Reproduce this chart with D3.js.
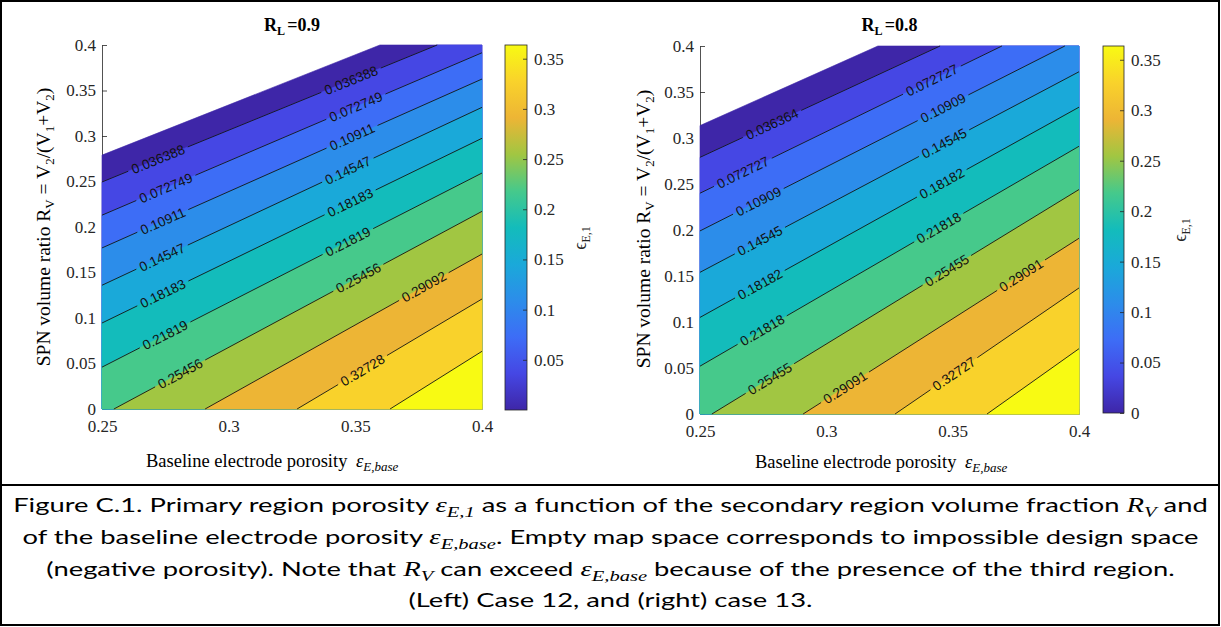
<!DOCTYPE html>
<html>
<head>
<meta charset="utf-8">
<script src="https://cdn.jsdelivr.net/npm/d3@7"></script>
<style>
  html, body { margin: 0; padding: 0; background: #ffffff; }
  svg { display: block; }
</style>
</head>
<body>
<svg id="fig" width="1221" height="627"></svg>
<script>
// Primary region porosity eps_E,1 over baseline porosity (x) and SPN volume ratio R_V (y)

const xTicks = [0.25, 0.3, 0.35, 0.4];
const yTicks = [0, 0.05, 0.1, 0.15, 0.2, 0.25, 0.3, 0.35, 0.4];

// Case 12, R_L = 0.9 : contour levels, each level's line from its lower/left end to its upper/right end
const levels12 = [0.000027, 0.036388, 0.072749, 0.10911, 0.14547, 0.18183, 0.21819, 0.25456, 0.29092, 0.32728, 0.36364];
const lineStart12 = [[0.25, 0.279], [0.25, 0.2495], [0.25, 0.213], [0.25, 0.177], [0.25, 0.136], [0.25, 0.0945], [0.25, 0.046], [0.2547, 0], [0.2907, 0], [0.327, 0], [0.3637, 0]];
const lineEnd12 = [[0.3597, 0.4], [0.3823, 0.4], [0.4, 0.3915], [0.4, 0.3626], [0.4, 0.3315], [0.4, 0.2975], [0.4, 0.2593], [0.4, 0.2172], [0.4, 0.1703], [0.4, 0.1209], [0.4, 0.0634]];
// inline labels: [level index, fraction along the line]
const labels12 = [[1, 0.167], [1, 0.743], [2, 0.168], [2, 0.668], [3, 0.16], [3, 0.658], [4, 0.158], [4, 0.647],
                  [5, 0.16], [5, 0.653], [6, 0.166], [6, 0.647], [7, 0.18], [7, 0.664], [8, 0.79], [9, 0.354]];
const cbTicks12 = [0.05, 0.1, 0.15, 0.2, 0.25, 0.3, 0.35];

// Case 13, R_L = 0.8
const levels13 = [0, 0.036364, 0.072727, 0.10909, 0.14545, 0.18182, 0.21818, 0.25455, 0.29091, 0.32727, 0.36364];
const lineStart13 = [[0.25, 0.3135], [0.25, 0.279], [0.25, 0.240], [0.25, 0.199], [0.25, 0.154], [0.25, 0.105], [0.25, 0.052], [0.2547, 0], [0.2908, 0], [0.3272, 0], [0.3636, 0]];
const lineEnd13 = [[0.3204, 0.4], [0.345, 0.4], [0.3695, 0.4], [0.3944, 0.4], [0.4, 0.372], [0.4, 0.3335], [0.4, 0.291], [0.4, 0.244], [0.4, 0.191], [0.4, 0.137], [0.4, 0.071]];
const labels13 = [[1, 0.30], [2, 0.142], [2, 0.768], [3, 0.16], [3, 0.666], [4, 0.158], [4, 0.644],
                  [5, 0.158], [5, 0.638], [6, 0.164], [6, 0.63], [7, 0.158], [7, 0.64], [8, 0.152], [8, 0.79], [9, 0.32]];
const cbTicks13 = [0, 0.05, 0.1, 0.15, 0.2, 0.25, 0.3, 0.35];

// colour map (parula), sampled at tenths of the colour range
const parula = ['#3e26a8', '#4547e4', '#3d6df6', '#2c8dea', '#1aa9d9', '#13bcbb',
                '#46c98b', '#a1c642', '#edb535', '#f9d22b', '#f8fa13'];

const serif = '"Liberation Serif", "Times New Roman", Times, serif';
const sans = '"Liberation Sans", Arial, Helvetica, sans-serif';
const ink = '#262626';

const svg = d3.select('#fig');

// keep the part of a polygon lying on the same side of line a-b as point ref
function clipHalfPlane(poly, a, b, ref) {
  const side = p => (b[0] - a[0]) * (p[1] - a[1]) - (b[1] - a[1]) * (p[0] - a[0]);
  const s = Math.sign(side(ref));
  const out = [];
  for (let i = 0; i < poly.length; i++) {
    const p = poly[i], q = poly[(i + 1) % poly.length];
    const sp = side(p) * s, sq = side(q) * s;
    if (sp >= 0) out.push(p);
    if ((sp >= 0) !== (sq >= 0)) {
      const t = sp / (sp - sq);
      out.push([p[0] + t * (q[0] - p[0]), p[1] + t * (q[1] - p[1])]);
    }
  }
  return out;
}

// text with TeX-like subscripts: parts = [[text, isSub], ...]
function richText(sel, parts, subSize, subShift) {
  let shifted = false;
  parts.forEach(([txt, sub]) => {
    const ts = sel.append('tspan').text(txt);
    if (sub && !shifted) { ts.attr('dy', subShift).attr('font-size', subSize); shifted = true; }
    else if (sub) { ts.attr('font-size', subSize); }
    else if (!sub && shifted) { ts.attr('dy', -subShift); shifted = false; }
  });
  return sel;
}

function drawPanel(p) {
  const x = d3.scaleLinear().domain([0.25, 0.4]).range([p.x0, p.x1]);
  const y = d3.scaleLinear().domain([0, 0.4]).range([p.y0, p.y1]);
  const g = svg.append('g');

  // axes go underneath the filled contours
  const yAxis = d3.axisLeft(y).tickValues(yTicks).tickSizeInner(-5).tickSizeOuter(0)
    .tickPadding(6).tickFormat(d => String(d));
  const xAxis = d3.axisBottom(x).tickValues(xTicks).tickSizeInner(-5).tickSizeOuter(0)
    .tickPadding(11).tickFormat(d => String(d));
  const ya = g.append('g').attr('transform', `translate(${p.x0},0)`).call(yAxis);
  const xa = g.append('g').attr('transform', `translate(0,${p.y0})`).call(xAxis);
  [ya, xa].forEach(a => {
    a.attr('font-family', serif).attr('font-size', 17);
    a.selectAll('path, line').attr('stroke', ink).attr('stroke-width', 0.8);
    a.selectAll('text').attr('fill', ink);
  });

  // filled bands: everything on the high side of each level, painted low to high
  const rect = [[0.25, 0], [0.4, 0], [0.4, 0.4], [0.25, 0.4]];
  const toPx = pts => pts.map(q => [x(q[0]), y(q[1])]);
  const lineGen = d3.line();
  p.levels.forEach((lv, k) => {
    const poly = clipHalfPlane(rect, p.start[k], p.end[k], [0.4, 0]);
    if (poly.length < 3) return;
    g.append('path').attr('d', lineGen(toPx(poly)) + 'Z')
      .attr('fill', parula[k]).attr('stroke', parula[k]).attr('stroke-width', 0.6);
  });

  // contour lines with inline labels
  const labG = g.append('g');
  p.levels.forEach((lv, k) => {
    if (k === 0) return;
    const a = [x(p.start[k][0]), y(p.start[k][1])];
    const b = [x(p.end[k][0]), y(p.end[k][1])];
    const len = Math.hypot(b[0] - a[0], b[1] - a[1]);
    const ang = Math.atan2(b[1] - a[1], b[0] - a[0]) * 180 / Math.PI;
    const gaps = [];
    p.labels.filter(l => l[0] === k).forEach(([, t]) => {
      const cx = a[0] + t * (b[0] - a[0]), cy = a[1] + t * (b[1] - a[1]);
      const txt = labG.append('text')
        .attr('transform', `translate(${cx},${cy}) rotate(${ang})`)
        .attr('text-anchor', 'middle').attr('dy', '0.36em')
        .attr('font-family', sans).attr('font-size', 13.5).attr('fill', '#111')
        .text(String(lv));
      const w = txt.node().getComputedTextLength();
      const h = (w / 2 + 4) / len;
      gaps.push([t - h, t + h]);
    });
    gaps.sort((u, v) => u[0] - v[0]);
    let t0 = 0;
    const segs = [];
    gaps.forEach(([s, e]) => { if (s > t0) segs.push([t0, s]); t0 = Math.max(t0, e); });
    if (t0 < 1) segs.push([t0, 1]);
    segs.forEach(([s, e]) => {
      g.insert('line', () => labG.node())
        .attr('x1', a[0] + s * (b[0] - a[0])).attr('y1', a[1] + s * (b[1] - a[1]))
        .attr('x2', a[0] + e * (b[0] - a[0])).attr('y2', a[1] + e * (b[1] - a[1]))
        .attr('stroke', '#141414').attr('stroke-width', 0.9);
    });
  });

  // title
  const title = g.append('text').attr('x', (p.x0 + p.x1) / 2).attr('y', 31)
    .attr('text-anchor', 'middle').attr('font-family', serif).attr('font-weight', 'bold')
    .attr('font-size', 18).attr('fill', '#000');
  richText(title, [['R', false], ['L ', true], ['=' + p.rl, false]], 12, 4);

  // axis labels
  const xl = g.append('text').attr('x', p.xlabX).attr('y', p.xlabY)
    .attr('font-family', serif).attr('font-size', 18.5).attr('fill', '#000');
  xl.append('tspan').text('Baseline electrode porosity ');
  xl.append('tspan').attr('dx', 4).attr('font-style', 'italic').text('ε');
  xl.append('tspan').attr('dy', 4).attr('font-size', 13).attr('font-style', 'italic').text('E,base');

  const yl = g.append('text').attr('transform', `translate(${p.ylabX},${p.ylabY}) rotate(-90)`)
    .attr('text-anchor', 'middle').attr('font-family', serif).attr('font-size', 19.5).attr('fill', '#000');
  richText(yl, [['SPN volume ratio R', false], ['V', true], [' = V', false], ['2', true], ['/(V', false],
                ['1', true], ['+V', false], ['2', true], [')', false]], 13, 4);

  // colour bar
  const cb = d3.scaleLinear().domain([0, 0.36364]).range([p.cbY0, p.cbY1]);
  const gid = 'grad' + p.id;
  const grad = svg.append('defs').append('linearGradient').attr('id', gid)
    .attr('x1', 0).attr('y1', 1).attr('x2', 0).attr('y2', 0);
  parula.forEach((c, i) => grad.append('stop').attr('offset', i / (parula.length - 1)).attr('stop-color', c));
  g.append('rect').attr('x', p.cbX).attr('y', cb(0.36364)).attr('width', p.cbW)
    .attr('height', cb(0) - cb(0.36364)).attr('fill', `url(#${gid})`)
    .attr('stroke', ink).attr('stroke-width', 0.8);
  const cbAxis = d3.axisRight(cb).tickValues(p.cbTicks).tickSizeInner(-4).tickSizeOuter(0)
    .tickPadding(7).tickFormat(d => String(d));
  const ca = g.append('g').attr('transform', `translate(${p.cbX + p.cbW},0)`).call(cbAxis);
  ca.attr('font-family', serif).attr('font-size', 17);
  ca.select('.domain').remove();
  ca.selectAll('line').attr('stroke', ink).attr('stroke-width', 0.8);
  ca.selectAll('text').attr('fill', ink);

  const cl = g.append('text').attr('transform', `translate(${p.cbLabX},${p.cbLabY}) rotate(-90)`)
    .attr('text-anchor', 'middle').attr('font-family', '"Liberation Serif", "DejaVu Serif", serif')
    .attr('font-size', 18).attr('fill', ink);
  richText(cl, [['ϵ', false], ['E,1', true]], 12, 4);
}

drawPanel({ id: 12, rl: '0.9', x0: 102, x1: 482, y0: 409, y1: 45,
  levels: levels12, start: lineStart12, end: lineEnd12, labels: labels12, cbTicks: cbTicks12,
  cbX: 505, cbW: 22, cbY0: 410, cbY1: 45, cbLabX: 586, cbLabY: 238,
  xlabX: 146, xlabY: 467, ylabX: 50, ylabY: 227 });

drawPanel({ id: 13, rl: '0.8', x0: 700, x1: 1079, y0: 414, y1: 46,
  levels: levels13, start: lineStart13, end: lineEnd13, labels: labels13, cbTicks: cbTicks13,
  cbX: 1103, cbW: 21, cbY0: 413, cbY1: 46, cbLabX: 1186, cbLabY: 230,
  xlabX: 755, xlabY: 468, ylabX: 650, ylabY: 229 });

// caption box
svg.append('rect').attr('x', 1).attr('y', 1).attr('width', 1218).attr('height', 624)
  .attr('fill', 'none').attr('stroke', '#000').attr('stroke-width', 2);
svg.append('line').attr('x1', 1).attr('x2', 1220).attr('y1', 485).attr('y2', 485)
  .attr('stroke', '#000').attr('stroke-width', 2);

const capFont = 'Lato, "Open Sans", "Liberation Sans", sans-serif';
const mathFont = '"Liberation Serif", "DejaVu Serif", serif';
const captionLines = [
  { y: 512, parts: [['Figure C.1. Primary region porosity '], ['ε', 'm'], ['E,1', 'ms'],
      [' as a function of the secondary region volume fraction '], ['R', 'm'], ['V', 'ms'], [' and']] },
  { y: 544, parts: [['of the baseline electrode porosity '], ['ε', 'm'], ['E,base', 'ms'],
      ['. Empty map space corresponds to impossible design space']] },
  { y: 576, parts: [['(negative porosity). Note that '], ['R', 'm'], ['V', 'ms'], [' can exceed '],
      ['ε', 'm'], ['E,base', 'ms'], [' because of the presence of the third region.']] },
  { y: 607, parts: [['(Left) Case 12, and (right) case 13.']] }
];
const capCx = 610.5;
const capNodes = captionLines.map(line => {
  const t = svg.append('text').attr('x', capCx).attr('y', line.y).attr('text-anchor', 'middle')
    .attr('font-family', capFont).attr('font-size', 20).attr('fill', '#000');
  let sub = false;
  line.parts.forEach(([txt, kind]) => {
    const ts = t.append('tspan').text(txt);
    if (kind === 'm' || kind === 'ms') ts.attr('font-family', mathFont).attr('font-style', 'italic').attr('font-size', 21);
    if (kind === 'ms') { ts.attr('font-size', 15); if (!sub) { ts.attr('dy', 5); sub = true; } }
    else if (sub) { ts.attr('dy', -5); sub = false; }
  });
  return t;
});
// first caption line spans the box from x=13 to x=1208; same squeeze for every line
const capScale = 1195 / capNodes[0].node().getBBox().width;
capNodes.forEach(t => t.attr('transform', `translate(${capCx},0) scale(${capScale},1) translate(${-capCx},0)`));
</script>
</body>
</html>
